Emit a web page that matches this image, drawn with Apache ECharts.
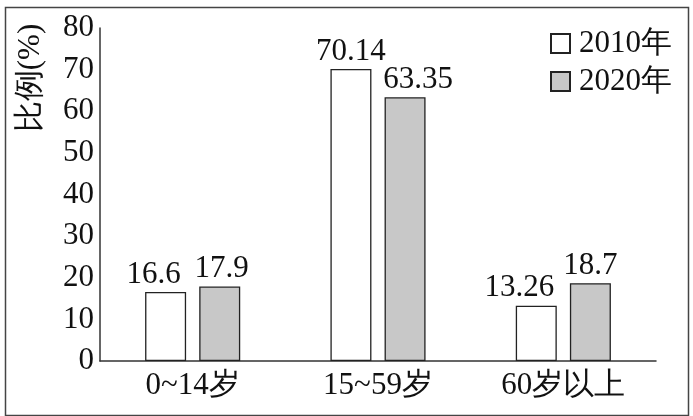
<!DOCTYPE html>
<html><head><meta charset="utf-8">
<script src="https://cdn.jsdelivr.net/npm/echarts@6/dist/echarts.min.js"></script>
<style>html,body{margin:0;padding:0;background:#fff}#c{width:693px;height:416px}</style>
</head><body><div id="c"></div>
<script>
var categories = ['0~14岁', '15~59岁', '60岁以上'];
var seriesNames = ['2010年', '2020年'];
var values2010 = [16.6, 70.14, 13.26];
var values2020 = [17.9, 63.35, 18.7];
var yTicks = [0, 10, 20, 30, 40, 50, 60, 70, 80];
var axisName = '比例(%)';

// label horizontal nudges (style, not data)
var off2010 = [-12, 0, -17];
var off2020 = [2, 13, 0];

var serif = '"Liberation Serif", "Times New Roman", serif';

function mk(vals, offs) {
  return vals.map(function (v, i) {
    return { value: v, label: { offset: [offs[i], 0] } };
  });
}

var chart = echarts.init(document.getElementById('c'));
chart.setOption({
  backgroundColor: '#fff',
  animation: false,
  grid: { left: 100, right: 37, top: 28, bottom: 55 },
  legend: {
    orient: 'vertical', right: 16, top: 23, align: 'left',
    itemWidth: 19, itemHeight: 19, itemGap: 7,
    icon: 'rect',
    textStyle: { fontFamily: serif, fontSize: 31, color: '#111', lineHeight: 29, padding: [0, 0, 0, 4] },
    data: seriesNames
  },
  xAxis: {
    type: 'category', data: categories,
    axisLine: { lineStyle: { color: '#333', width: 1.5 } },
    axisTick: { show: false },
    axisLabel: { fontFamily: serif, fontSize: 31, color: '#111', margin: 9 }
  },
  yAxis: {
    type: 'value', min: yTicks[0], max: yTicks[yTicks.length - 1], interval: 10,
    axisLine: { show: true, lineStyle: { color: '#333', width: 1.5 } },
    axisTick: { show: false },
    splitLine: { show: false },
    axisLabel: { fontFamily: serif, fontSize: 31, color: '#111', margin: 6 }
  },
  series: [
    {
      name: seriesNames[0], type: 'bar', data: mk(values2010, off2010),
      barWidth: 41, barGap: '32%',
      itemStyle: { color: '#ffffff', borderColor: '#222', borderWidth: 1.3 },
      label: { show: true, position: 'top', distance: 2, fontFamily: serif, fontSize: 31, color: '#111' }
    },
    {
      name: seriesNames[1], type: 'bar', data: mk(values2020, off2020),
      barWidth: 41,
      itemStyle: { color: '#c8c8c8', borderColor: '#222', borderWidth: 1.3 },
      label: { show: true, position: 'top', distance: 2, fontFamily: serif, fontSize: 31, color: '#111' }
    }
  ],
  graphic: [
    { type: 'rect', left: 3, top: 5, shape: { width: 683, height: 408 }, style: { fill: 'none', stroke: '#444', lineWidth: 1.5 }, silent: true },
    { type: 'text', x: 31, y: 78, rotation: Math.PI / 2,
      style: { text: axisName, font: '31px ' + serif, fill: '#111', align: 'center', verticalAlign: 'middle' } }
  ]
});
</script></body></html>
